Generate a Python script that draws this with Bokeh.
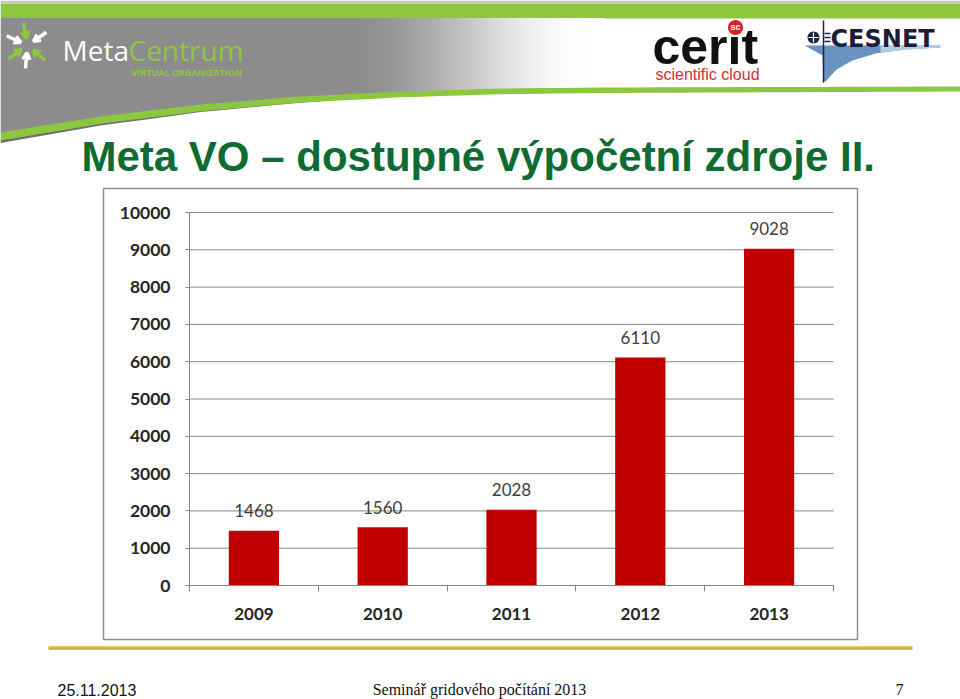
import numpy as np
from bokeh.plotting import figure
from bokeh.models import Range1d, FixedTicker, ColumnDataSource
from bokeh.core.properties import value
from bokeh.embed import file_html
from bokeh.resources import INLINE

# ---------------- data ----------------
years = ["2009", "2010", "2011", "2012", "2013"]
counts = [1468, 1560, 2028, 6110, 9028]
y_ticks = [0, 1000, 2000, 3000, 4000, 5000, 6000, 7000, 8000, 9000, 10000]
title_text = "Meta VO \u2013 dostupn\u00e9 v\u00fdpo\u010detn\u00ed zdroje II."
footer_date = "25.11.2013"
footer_event = "Semin\u00e1\u0159 gridov\u00e9ho po\u010d\u00edt\u00e1n\u00ed 2013"
footer_page = "7"

# ---------------- layout ----------------
W, H = 960, 699
FL, FR, FT, FB = 189, 833, 212, 585   # chart plot area on the page (px)
YMAX = 10000
n = len(years)
ux = n / (FR - FL)
uy = YMAX / (FB - FT)
x_lo = -0.5 - FL * ux
x_hi = n - 0.5 + (W - FR) * ux
y_lo = -(H - FB) * uy
y_hi = YMAX + FT * uy

GRAY = "#868686"
BASE_FIX = 0.36   # glyph text sits this many em below the requested baseline

p = figure(width=W, height=H, output_backend="svg", toolbar_location=None,
           x_range=Range1d(x_lo, x_hi), y_range=Range1d(y_lo, y_hi),
           min_border=0)
p.outline_line_color = None
p.background_fill_color = "white"
p.border_fill_color = "white"
p.extra_x_ranges = {"page": Range1d(0, W)}
p.extra_y_ranges = {"page": Range1d(H, 0)}
PG = dict(x_range_name="page", y_range_name="page")

# ---------------- page decoration (page pixel coordinates) ----------------
def quad(x0, y0, x1, y1, fill):
    p.quad(left=x0, right=x1, top=y0, bottom=y1, fill_color=fill, line_color=None, **PG)

def patch(pts, fill, alpha=1.0):
    p.patch([a for a, b in pts], [b for a, b in pts], fill_color=fill, fill_alpha=alpha,
            line_color=None, **PG)

def txt(px, py, text, font, size, color, style="normal", align="left"):
    p.text(x=[px], y=[py - BASE_FIX * size], text=[text], text_font=value(font),
           text_font_size="%gpx" % size, text_color=color, text_font_style=style,
           text_align=align, text_baseline="alphabetic", **PG)

def seg(x0, y0, x1, y1, color, lw):
    p.segment(x0=[x0], y0=[y0], x1=[x1], y1=[y1], line_color=color, line_width=lw, **PG)

def circle_pts(cx, cy, r, k=28):
    t = np.linspace(0, 2 * np.pi, k, endpoint=False)
    return [(cx + r * np.cos(a), cy + r * np.sin(a)) for a in t]

# top strips
quad(0, 0, W, 3, "#c8c8c8")
quad(0, 3, W, 18, "#8fc640")

# swoosh geometry
cxp = [0, 100, 200, 300, 400, 500, 600, 960]
cyp = [132, 116, 104, 96, 91, 88, 87, 86]
def ctop(x):
    return float(np.interp(x, cxp, cyp))
def cth(x):
    return float(np.interp(x, [0, 300, 960], [8, 6, 5]))

G0, G1 = 340, 592
gx = list(range(0, G1 + 1, 10))
patch([(0, 17.5)] + [(x, 17.5) for x in gx[1:]] + [(x, ctop(x) + 2) for x in reversed(gx)],
      "#8c8c8c")
for x0 in range(G0, G1, 4):
    t = (x0 + 2 - G0) / (G1 - G0)
    g = int(140 + (255 - 140) * (0.5 - 0.5 * np.cos(np.pi * t)))
    quad(x0, 17.5, x0 + 6, ctop(x0 + 3) + 2, "#%02x%02x%02x" % (g, g, g))
quad(G1, 17.5, G1 + 12, ctop(G1) + 2, "white")

patch([(x, ctop(x) + cth(x) - 1) for x in range(0, 321, 20)] +
      [(x, ctop(x) + cth(x) + 2.5 * (1 - x / 320)) for x in reversed(range(0, 321, 20))],
      "#6e6e6e")
sxs = list(range(0, 961, 20))
patch([(x, ctop(x)) for x in sxs] + [(x, ctop(x) + cth(x)) for x in reversed(sxs)], "#8dc63f")

# MetaCentrum logo (arrow star)
cxl, cyl = 27, 45
for ang, col in [(35, "white"), (100, "#8dc63f"), (155, "white"), (215, "#8dc63f"),
                 (265, "white"), (320, "#8dc63f")]:
    a = np.deg2rad(ang)
    ex, ey = cxl + 23 * np.cos(a), cyl - 23 * np.sin(a)
    ix, iy = cxl + 7 * np.cos(a), cyl - 7 * np.sin(a)
    seg(ix, iy, ex, ey, col, 3.5)
    for d in (-0.5, 0.5):
        seg(ix, iy, ix + 8 * np.cos(a + d), iy - 8 * np.sin(a + d), col, 3)
txt(62, 60, "Meta", "Open Sans", 28, "white")
txt(128, 60, "Centrum", "Open Sans", 28, "#8dc63f")
txt(131, 75, "VIRTUAL ORGANIZATION", "Open Sans", 9, "#8dc63f", style="bold")

# cerit logo
txt(652, 64, "cerit", "Liberation Sans", 50, "#111111", style="bold")
patch(circle_pts(735, 27, 7.5), "#d8222a")
txt(735, 30, "sc", "Liberation Sans", 9, "white", style="bold", align="center")
txt(655, 80, "scientific cloud", "Liberation Sans", 16, "#d42e3a")

# CESNET logo
patch([(804, 45), (940, 45), (940, 47), (905, 49), (875, 53), (852, 60), (836, 69), (826, 80),
       (823, 82), (822, 55)], "#4f7fb5", alpha=0.85)
patch([(880, 45), (940, 45), (940, 47), (905, 49), (880, 52)], "#bcd0e6", alpha=0.9)
seg(823, 20, 823, 82, "#1b2448", 1.5)
patch(circle_pts(813, 37, 6), "#1b2448")
seg(808, 37, 818, 37, "white", 1.2)
seg(813, 32, 813, 42, "white", 1.2)
for yy in (33, 37, 41):
    seg(824, yy, 830, yy, "#1b2448", 1.5)
txt(830, 47, "CESNET", "DejaVu Sans", 24, "#1b1b3a", style="bold")

# title
txt(81, 171, title_text, "Liberation Sans", 42, "#0e6b33", style="bold")

# chart box
p.quad(left=103, right=857, top=188, bottom=639, fill_color=None,
       line_color="#8f8f8f", line_width=1.5, **PG)

# footer rule
seg(48, 647.5, 912, 647.5, "#d3aa3c", 3.5)
seg(48, 646.3, 912, 646.3, "#ecd27a", 1)
txt(57, 695, footer_date, "Liberation Sans", 16, "#111111")
txt(479, 695, footer_event, "Liberation Serif", 16, "#111111", align="center")
txt(903, 695, footer_page, "Liberation Serif", 16, "#111111", align="right")

# ---------------- chart ----------------
xs = list(range(n))
# horizontal gridlines across the bar area
p.segment(x0=-0.5, x1=n - 0.5, y0=y_ticks, y1=y_ticks, line_color=GRAY, line_width=1)

src = ColumnDataSource(dict(x=xs, top=counts, label=[str(c) for c in counts]))
p.vbar(x="x", top="top", bottom=0, width=0.39, source=src,
       fill_color="#C00000", line_color=None)
p.text(x="x", y="top", text="label", source=src, text_align="center",
       text_baseline="alphabetic", y_offset=-20, text_font=value("Lato"),
       text_font_size="17px", text_color="#404040")

# x axis (drawn at y = 0)
p.xaxis.fixed_location = 0
p.xaxis.bounds = (-0.5, n - 0.5)
p.xaxis.ticker = FixedTicker(ticks=xs, minor_ticks=[i - 0.5 for i in range(n + 1)])
p.xaxis.major_label_overrides = {i: y for i, y in zip(xs, years)}
p.xaxis.major_tick_line_color = None
p.xaxis.major_tick_out = 0
p.xaxis.major_tick_in = 0
p.xaxis.minor_tick_out = 6
p.xaxis.minor_tick_in = 0
p.xaxis.minor_tick_line_color = GRAY
p.xaxis.axis_line_color = GRAY
p.xaxis.major_label_standoff = 16
p.xaxis.major_label_text_font = "Lato"
p.xaxis.major_label_text_font_style = "bold"
p.xaxis.major_label_text_font_size = "17px"
p.xaxis.major_label_text_color = "#262626"

# y axis (drawn at the left edge of the bar area)
p.yaxis.fixed_location = -0.5
p.yaxis.bounds = (0, YMAX)
p.yaxis.ticker = FixedTicker(ticks=y_ticks, minor_ticks=[])
p.yaxis.major_tick_out = 4
p.yaxis.major_tick_in = 0
p.yaxis.major_tick_line_color = GRAY
p.yaxis.minor_tick_line_color = None
p.yaxis.axis_line_color = GRAY
p.yaxis.major_label_standoff = 15
p.yaxis.major_label_text_font = "Lato"
p.yaxis.major_label_text_font_style = "bold"
p.yaxis.major_label_text_font_size = "17.5px"
p.yaxis.major_label_text_color = "#262626"

p.xgrid.grid_line_color = None
p.ygrid.grid_line_color = None

open("out.html", "w").write(file_html(p, INLINE))
